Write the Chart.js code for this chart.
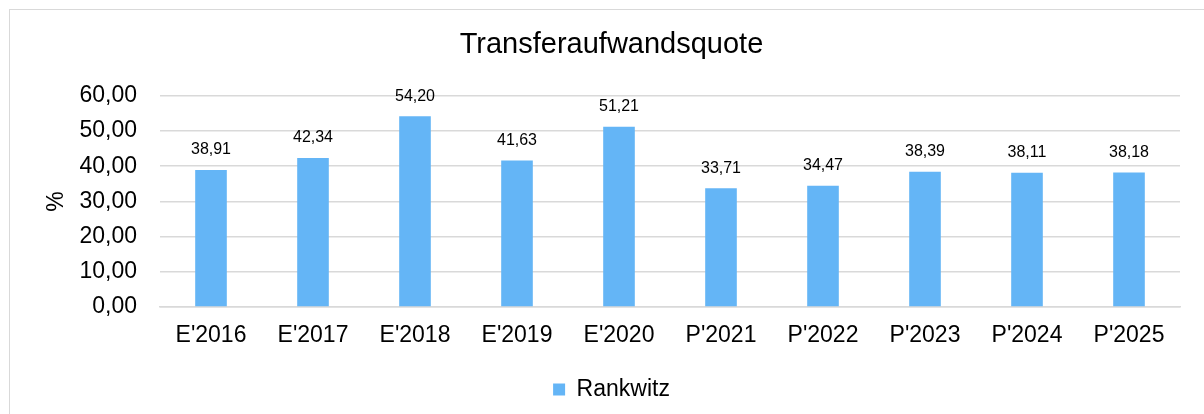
<!DOCTYPE html>
<html>
<head>
<meta charset="utf-8">
<script src="https://cdn.jsdelivr.net/npm/chart.js@4"></script>
<style>
  html, body { margin: 0; padding: 0; background: #fff; overflow: hidden; }
  #frame { position: absolute; left: 9px; top: 9px; width: 1230px; height: 440px; border: 1.5px solid #d9d9d9; }
  #wrap { position: absolute; left: 0; top: 0; width: 1204px; height: 414px; }
</style>
</head>
<body>
<div id="frame"></div>
<div id="wrap"><canvas id="chart"></canvas></div>
<script>
const categories = ["E'2016", "E'2017", "E'2018", "E'2019", "E'2020", "P'2021", "P'2022", "P'2023", "P'2024", "P'2025"];
const rankwitz = [38.91, 42.34, 54.20, 41.63, 51.21, 33.71, 34.47, 38.39, 38.11, 38.18];
const yTicks = [0, 10, 20, 30, 40, 50, 60];

const fontFamily = '"Liberation Sans", Arial, Helvetica, sans-serif';
const fmt = v => v.toLocaleString('de-DE', { minimumFractionDigits: 2, maximumFractionDigits: 2 });

// draws the value above each bar
const valueLabels = {
    id: 'valueLabels',
    afterDatasetsDraw(chart) {
        const ctx = chart.ctx;
        ctx.save();
        ctx.font = '16px ' + fontFamily;
        ctx.fillStyle = '#000';
        ctx.textAlign = 'center';
        ctx.textBaseline = 'middle';
        chart.getDatasetMeta(0).data.forEach((bar, i) => {
            ctx.fillText(fmt(chart.data.datasets[0].data[i]), bar.x, bar.y - 20);
        });
        ctx.restore();
    }
};

const chart = new Chart(document.getElementById('chart'), {
    type: 'bar',
    data: {
        labels: categories,
        datasets: [{
            label: 'Rankwitz',
            data: rankwitz,
            backgroundColor: '#64b5f6',
            borderWidth: 0,
            categoryPercentage: 1.0,
            barPercentage: 0.31
        }]
    },
    options: {
        responsive: true,
        maintainAspectRatio: false,
        animation: false,
        layout: { padding: { left: 43, right: 24, top: 0, bottom: 3 } },
        plugins: {
            title: {
                display: true,
                text: 'Transferaufwandsquote',
                color: '#000',
                font: { family: fontFamily, size: 29, weight: 'normal' },
                padding: { top: 28, bottom: 33 }
            },
            legend: {
                position: 'bottom',
                labels: {
                    color: '#000',
                    font: { family: fontFamily, size: 23 },
                    boxWidth: 12,
                    boxHeight: 12,
                    padding: 10
                }
            },
            tooltip: { enabled: false }
        },
        scales: {
            x: {
                grid: { display: false },
                border: { color: '#d9d9d9', width: 1.5 },
                ticks: { color: '#000', font: { family: fontFamily, size: 23 }, padding: 7, maxRotation: 0 },
                afterFit: s => { s.height = 61; }
            },
            y: {
                min: 0,
                max: 60,
                afterBuildTicks: s => { s.ticks = yTicks.map(v => ({ value: v })); },
                grid: { color: '#d9d9d9', lineWidth: 1.5, drawTicks: false },
                border: { display: false },
                ticks: { color: '#000', font: { family: fontFamily, size: 23 }, padding: 23, callback: v => fmt(v) },
                title: { display: true, text: '%', color: '#000', font: { family: fontFamily, size: 23 }, padding: 0 },
                afterFit: s => { s.width = 117; }
            }
        }
    },
    plugins: [valueLabels]
});
</script>
</body>
</html>
